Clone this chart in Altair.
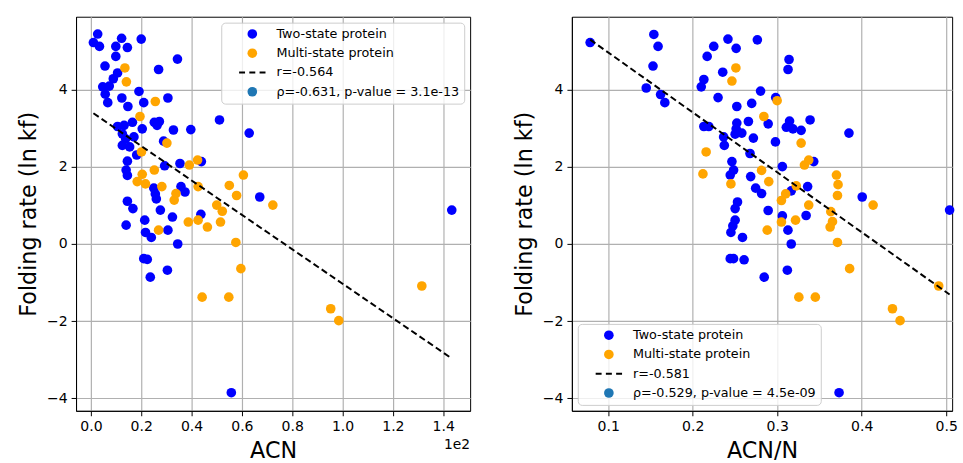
import altair as alt
import pandas as pd

FONT = "DejaVu Sans"

# ---------------- data ----------------
# Left panel: ACN (raw) vs folding rate
acn_two = [2.7, 1.0, 3.4, 12.2, 20.0, 9.9, 14.5, 9.9, 34.4, 5.6, 26.9, 10.6, 8.9, 4.7, 7.3, 5.7,
           6.7, 19.1, 12.3, 14.7, 21.0, 30.6, 51.1, 10.6, 13.2, 16.5, 20.4, 25.2, 27.2, 26.3, 32.8,
           39.7, 12.5, 17.1, 13.8, 12.5, 15.4, 28.9, 62.9, 43.9, 67.1, 43.7, 14.5, 18.2, 14.0, 14.5,
           29.3, 35.4, 25.0, 25.6, 26.0, 35.8, 37.4, 14.5, 16.7, 27.6, 32.4, 14.0, 21.4, 21.7, 24.0,
           30.6, 34.5, 21.0, 22.4, 30.4, 23.6, 55.8, 143.4]
rate_two_l = [5.45, 5.23, 5.13, 5.34, 5.32, 5.13, 5.10, 4.87, 4.80, 4.62, 4.53, 4.44, 4.29, 4.08, 4.10, 3.89,
              3.67, 3.96, 3.79, 3.57, 3.67, 3.79, 3.22, 3.05, 3.08, 3.16, 2.99, 3.16, 3.18, 3.08, 2.96,
              2.97, 2.86, 2.78, 2.73, 2.56, 2.52, 2.67, 2.88, 2.14, 1.22, 0.77, 2.15, 2.31, 1.92, 1.78,
              2.03, 2.09, 1.45, 1.30, 1.17, 1.49, 1.35, 1.11, 0.92, 0.88, 0.70, 0.49, 0.62, 0.30, 0.17,
              0.36, 0.00, -0.38, -0.40, -0.68, -0.86, -3.86, 0.88]
acn_multi = [13.5, 14.1, 25.6, 19.5, 30.2, 20.1, 42.4, 39.1, 20.4, 25.2, 18.4, 21.7, 28.2, 33.8, 33.1,
             42.6, 50.0, 52.2, 51.5, 38.7, 42.6, 46.3, 26.9, 60.6, 55.0, 57.9, 72.3, 57.6, 59.6, 44.2,
             54.8, 95.3, 98.5, 131.5]
rate_multi_l = [4.57, 4.21, 3.70, 3.31, 2.62, 2.39, 2.18, 2.05, 1.81, 1.92, 1.62, 1.56, 1.49, 1.31, 1.14,
                1.49, 1.01, 0.85, 0.57, 0.57, 0.62, 0.44, 0.36, 1.79, 1.52, 1.26, 1.01, 0.04, -0.64, -1.38,
                -1.38, -1.68, -1.99, -1.09]

# Right panel: ACN/N vs folding rate
acnn_two = [0.0786, 0.154, 0.159, 0.153, 0.145, 0.162, 0.167, 0.2417, 0.2765, 0.2249, 0.2514, 0.2171,
            0.314, 0.3128, 0.2355, 0.2132, 0.2101, 0.2803, 0.2982, 0.230, 0.2522, 0.2698, 0.3146, 0.2659,
            0.2893, 0.2522, 0.2132, 0.219, 0.2514, 0.2581, 0.2502, 0.3108, 0.3186, 0.3283, 0.2718, 0.2979,
            0.2366, 0.2374, 0.2678, 0.2464, 0.2484, 0.2444, 0.2686, 0.2745, 0.2815, 0.3061, 0.2530, 0.2502,
            0.2893, 0.2502, 0.2475, 0.2452, 0.2589, 0.3061, 0.3127, 0.3166, 0.2444, 0.2483, 0.2608, 0.312,
            0.2846, 0.3389, 0.3849, 0.3432, 0.336, 0.3166, 0.4006, 0.3342, 0.3732, 0.504]
rate_two_r = [5.23, 5.44, 5.13, 4.62, 4.05, 3.88, 3.67, 5.32, 5.30, 5.13, 5.08, 4.87,
              4.79, 4.53, 4.46, 4.27, 4.08, 3.97, 3.80, 3.80, 3.57, 3.65, 3.19, 3.18,
              3.12, 3.14, 3.05, 3.05, 2.99, 2.88, 2.85, 3.03, 2.99, 2.95, 2.75, 2.65,
              2.78, 2.56, 2.35, 2.14, 1.92, 1.79, 1.75, 1.45, 1.31, 2.01, 1.09, 0.92,
              0.87, 0.62, 0.47, 0.30, 0.17, 0.73, 0.36, 0.00, -0.38, -0.38, -0.41, -0.68,
              -0.86, 3.22, 2.88, 2.14, 1.49, 1.38, 1.22, 0.74, -3.86, 0.88]
acnn_multi = [0.2511, 0.2464, 0.2999, 0.2842, 0.3283, 0.2159, 0.2121, 0.2452, 0.2815, 0.290, 0.3225,
              0.310, 0.305, 0.305, 0.3217, 0.2882, 0.3373, 0.3322, 0.3701, 0.372, 0.3713, 0.4135,
              0.3373, 0.3634, 0.3654, 0.3626, 0.3713, 0.3857, 0.3256, 0.3451, 0.4364, 0.4454, 0.4911]
rate_multi_r = [4.57, 4.23, 3.72, 3.31, 2.62, 2.39, 1.82, 1.56, 1.91, 1.62, 1.51,
                1.30, 1.13, 0.57, 0.62, 0.36, 2.18, 2.05, 1.79, 1.54, 1.26, 1.01,
                1.01, 0.84, 0.58, 0.44, 0.04, -0.64, -1.38, -1.38, -1.68, -1.99, -1.09]

TYPES = ["Two-state protein", "Multi-state protein"]
left_labels = TYPES + ["r=-0.564", "\u03c1=-0.631, p-value = 3.1e-13"]
right_labels = TYPES + ["r=-0.581", "\u03c1=-0.529, p-value = 4.5e-09"]
x_ticks_left = [0.0, 0.2, 0.4, 0.6, 0.8, 1.0, 1.2, 1.4]
x_ticks_right = [0.1, 0.2, 0.3, 0.4, 0.5]
y_ticks = [-4, -2, 0, 2, 4]

COLORS = ["#0000ff", "#ffa500", "#000000", "#1f77b4"]
DASH = ("M-2.74,-0.2H-1.51V0.2H-2.74Z M-0.62,-0.2H0.62V0.2H-0.62Z "
        "M1.51,-0.2H2.74V0.2H1.51Z")
SHAPES = ["circle", "circle", DASH, "circle"]

df_left = pd.DataFrame({
    "x": acn_two + acn_multi,
    "rate": rate_two_l + rate_multi_l,
    "type": [TYPES[0]] * len(acn_two) + [TYPES[1]] * len(acn_multi),
})
df_right = pd.DataFrame({
    "x": acnn_two + acnn_multi,
    "rate": rate_two_r + rate_multi_r,
    "type": [TYPES[0]] * len(acnn_two) + [TYPES[1]] * len(acnn_multi),
})

Y_DOMAIN = [-4.33, 5.9]
H = 399
PT = 95


def panel(df, scale_div, xdomain, xticks, xfmt, xtitle, labels, orient, width, extra=None):
    base = alt.Chart(df).transform_calculate(xs=f"datum.x / {scale_div}")
    xenc = alt.X("xs:Q", scale=alt.Scale(domain=xdomain, nice=False, zero=False),
                 axis=alt.Axis(values=xticks, format=xfmt, title=xtitle))
    yenc = alt.Y("rate:Q", scale=alt.Scale(domain=Y_DOMAIN, nice=False, zero=False),
                 axis=alt.Axis(values=y_ticks, format="d", title="Folding rate (ln kf)"))
    legend = alt.Legend(title=None, orient=orient, offset=6, fillColor="rgba(255,255,255,0.8)",
                        strokeColor="#cccccc", cornerRadius=4, padding=5,
                        labelFontSize=12.9, labelFont=FONT, labelColor="black",
                        symbolSize=PT, symbolStrokeWidth=0, rowPadding=5.5,
                        symbolOffset=20, labelOffset=18, labelLimit=400)
    pts = base.mark_point(filled=True, size=PT, opacity=1, strokeWidth=0).encode(
        x=xenc, y=yenc,
        color=alt.Color("type:N", scale=alt.Scale(domain=labels, range=COLORS), legend=legend),
        shape=alt.Shape("type:N", scale=alt.Scale(domain=labels, range=SHAPES), legend=legend),
    )
    line = base.transform_regression("xs", "rate").mark_line(
        color="black", strokeDash=[6.5, 3.5], strokeWidth=2
    ).encode(x="xs:Q", y="rate:Q")
    layers = [pts, line]
    if extra is not None:
        layers.append(extra)
    return alt.layer(*layers).properties(width=width, height=H)


offset_text = alt.Chart(pd.DataFrame({"t": ["1e2"]})).mark_text(
    align="right", baseline="top", fontSize=14, font=FONT, color="black"
).encode(x=alt.value(399), y=alt.value(H + 28), text="t:N")

left = panel(df_left, 100, [-0.059, 1.507], x_ticks_left, ".1f", "ACN", left_labels,
             "top-right", 399, offset_text)
right = panel(df_right, 1, [0.057, 0.507], x_ticks_right, ".1f", "ACN/N", right_labels,
              "bottom-left", 385)

chart = alt.hconcat(left, right, spacing=103, bounds="flush").resolve_scale(
    color="independent", shape="independent", x="independent"
).properties(
    padding={"left": 17, "top": 13, "right": 5, "bottom": 5}
).configure(font=FONT).configure_view(
    stroke="black", strokeWidth=1
).configure_axis(
    labelFont=FONT, titleFont=FONT, labelFontSize=14.2, titleFontSize=22.5,
    titleFontWeight="normal", labelColor="black", titleColor="black",
    domainColor="black", tickColor="black", tickSize=5, labelPadding=4,
    gridColor="#b0b0b0", gridWidth=1.2, titlePadding=6,
)

chart.save("out.html", embed_options={"renderer": "svg", "actions": False})
